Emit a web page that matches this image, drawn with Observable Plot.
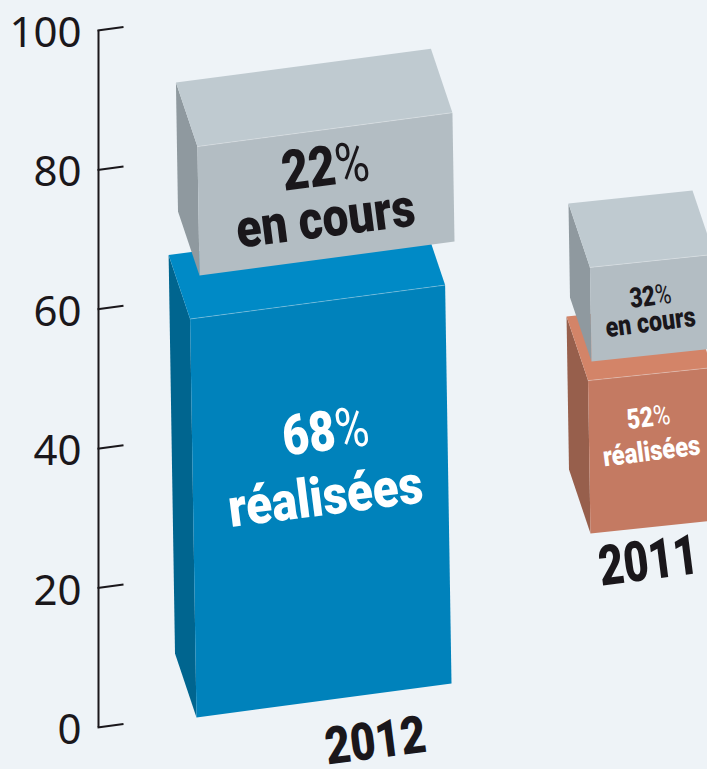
<!DOCTYPE html>
<html>
<head>
<meta charset="utf-8">
<script src="https://cdn.jsdelivr.net/npm/d3@7"></script>
<script src="https://cdn.jsdelivr.net/npm/@observablehq/plot@0.6"></script>
<style>
html,body{margin:0;padding:0;background:#eef3f7;}
svg{display:block;}
</style>
</head>
<body>
<div id="chart"></div>
<script>
// Data
const years = [2012, 2011];
const realisees = [68, 52];
const enCours = [22, 32];
const axisTicks = [0, 20, 40, 60, 80, 100];

// Layout of the drawing (page units)
const pxPerUnit = 6.97, axisBase = 727;
const toV = y => (axisBase - y) / pxPerUnit;
const boxLayout = [
  {year: 2012, scale: 5.86, width: 255, slope: 0.133, baseReal: [196, 717], baseCours: [199, 275]},
  {year: 2011, scale: 2.94, width: 124, slope: 0.105, baseReal: [590, 533], baseCours: [591, 361]}
];
const depth = [-21.5, -64], lean = 0.016;

const faceDomain = ["real2012-side","real2012-top","real2012-front","real2011-side","real2011-top","real2011-front","cours-side","cours-top","cours-front"];
const faceRange  = ["#00658f","#008ac6","#0082bb","#975f4c","#d38468","#c47a62","#8f999f","#bfcad0","#b3bdc3"];

const edges = [];
function faces(id, base, value, L, kind) {
  const h = value * L.scale, [bx, by] = base, w = L.width, r = w * L.slope;
  const fbl = [bx, by], fbr = [bx + w, by - r];
  const ftl = [bx - h * lean, by - h], ftr = [bx + w - h * lean, by - h - r];
  const add = p => [p[0] + depth[0], p[1] + depth[1]];
  const shape = (name, pts) => pts.map(p => ({id: id + name, face: kind + "-" + name, x: p[0], y: toV(p[1])}));
  edges.push(...shape("edge", [ftl, ftr]));
  return [
    ...shape("side", [add(ftl), ftl, fbl, add(fbl)]),
    ...shape("top", [add(ftl), add(ftr), ftr, ftl]),
    ...shape("front", [ftl, ftr, fbr, fbl])
  ];
}
const polys = [];
[1, 0].forEach(i => {
  const L = boxLayout[i];
  polys.push(...faces("r" + years[i], L.baseReal, realisees[i], L, "real" + years[i]));
  polys.push(...faces("c" + years[i], L.baseCours, enCours[i], L, "cours"));
});

const tilt = -7.3;
const darkLabels = [
  {t: enCours[0], s: "%", x: 325, y: 167, size: 56, k: 0.83},
  {t: "en cours", s: "", x: 325, y: 219, size: 54, k: 0.855},
  {t: enCours[1], s: "%", x: 650, y: 296, size: 28, k: 0.79},
  {t: "en cours", s: "", x: 650, y: 322, size: 28, k: 0.83},
  {t: years[0], s: "", x: 375, y: 741, size: 52, k: 0.84},
  {t: years[1], s: "", x: 648, y: 561, size: 56, k: 0.77}
];
const lightLabels = [
  {t: realisees[0], s: "%", x: 325, y: 432, size: 56, k: 0.82},
  {t: "réalisées", s: "", x: 325, y: 497, size: 54, k: 0.88},
  {t: realisees[1], s: "%", x: 648, y: 417, size: 28, k: 0.82},
  {t: "réalisées", s: "", x: 651, y: 451, size: 28, k: 0.85}
];
const inkColor = "#1a171b";
const labelFont = "Roboto,'Liberation Sans',sans-serif";

function labelMark(rows, fill) {
  return Plot.text(rows, {
    x: "x", y: d => toV(d.y), text: d => `${d.t}${d.s}`,
    fontSize: "size", fontFamily: labelFont, fontWeight: 900, fill,
    rotate: tilt, textAnchor: "middle", lineAnchor: "middle", className: "boxlabel"
  });
}

// Edges are drawn with each box so that later boxes still cover them
const polyMarks = [];
["r2011","c2011","r2012","c2012"].forEach(p => {
  polyMarks.push(Plot.line(polys.filter(d => d.id.startsWith(p)), {x: "x", y: "y", z: "id", fill: "face", stroke: "none", curve: "linear", clip: true}));
  polyMarks.push(Plot.line(edges.filter(d => d.id.startsWith(p)), {x: "x", y: "y", z: "id", stroke: "#ffffff", strokeOpacity: 0.35, strokeWidth: 0.8, clip: true}));
});

const chart = Plot.plot({
  width: 707, height: 769, margin: 0,
  style: {background: "#eef3f7"},
  x: {domain: [0, 707], range: [0, 707], axis: null},
  y: {domain: [toV(769), toV(0)], range: [769, 0], axis: null},
  color: {domain: faceDomain, range: faceRange},
  marks: [
    ...polyMarks,
    Plot.ruleX([98], {y1: 0, y2: 100, stroke: inkColor, strokeWidth: 2}),
    Plot.link(axisTicks, {x1: 97, x2: 123, y1: d => d, y2: d => d + 0.5, stroke: inkColor, strokeWidth: 2}),
    Plot.text(axisTicks, {x: 81, y: d => d, dy: 3, text: d => String(d), textAnchor: "end", fontFamily: "'Noto Sans',sans-serif", fontSize: 42, fill: inkColor}),
    labelMark(darkLabels, inkColor),
    labelMark(lightLabels, "#ffffff")
  ]
});
document.getElementById("chart").appendChild(chart);

// narrower, poster-like lettering, with a lighter percent sign
[[darkLabels, inkColor], [lightLabels, "#ffffff"]].forEach(([rows, fill]) => {
  d3.select(chart).selectAll(".boxlabel").filter(function () {
    return d3.select(this).attr("fill") === fill;
  }).selectAll("text").each(function (_, i) {
    const row = rows[i];
    this.setAttribute("transform", `${this.getAttribute("transform")} scale(${row.k},1)`);
    const s = this.textContent;
    if (s.endsWith("%")) {
      this.textContent = "";
      d3.select(this).append("tspan").text(s.slice(0, -1));
      d3.select(this).append("tspan").attr("font-weight", 400).text("%");
    }
  });
});
</script>
</body>
</html>
